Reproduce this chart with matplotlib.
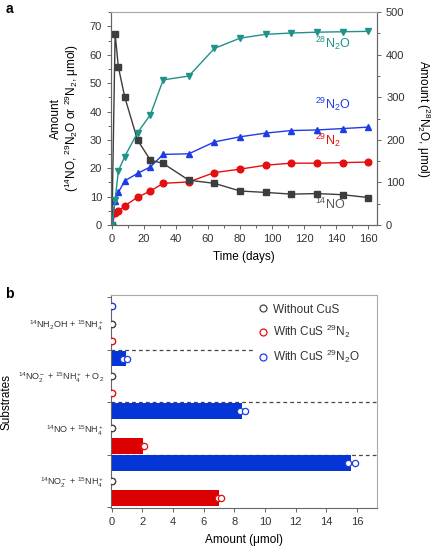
import matplotlib
matplotlib.use("Agg")
import matplotlib.pyplot as plt
from matplotlib.lines import Line2D
from matplotlib.ticker import MultipleLocator
import numpy as np

plt.rcParams["font.family"] = ["Liberation Sans", "DejaVu Sans"]
plt.rcParams["mathtext.fontset"] = "custom"
plt.rcParams["mathtext.rm"] = "Liberation Sans"
plt.rcParams["mathtext.it"] = "Liberation Sans:italic"
plt.rcParams["mathtext.bf"] = "Liberation Sans:bold"
plt.rcParams["axes.edgecolor"] = "#666666"
plt.rcParams["xtick.color"] = "#666666"
plt.rcParams["ytick.color"] = "#666666"
plt.rcParams["xtick.labelcolor"] = "#333333"
plt.rcParams["ytick.labelcolor"] = "#333333"
plt.rcParams["text.color"] = "#333333"

# ---- panel a data ----
days    = [0, 2, 4, 8, 16, 24, 32, 48, 64, 80, 96, 112, 128, 144, 160]
no14    = [0, 67.4, 55.7, 45.1, 29.9, 22.9, 21.7, 15.8, 14.7, 12.0, 11.5, 10.9, 11.1, 10.7, 9.7]
n2o29   = [0, 8.6, 11.5, 15.6, 18.2, 20.5, 24.9, 25.1, 29.3, 31.1, 32.4, 33.3, 33.5, 34.0, 34.5]
n2_29   = [0, 4.1, 4.8, 6.8, 9.8, 12.0, 14.7, 15.2, 18.5, 19.7, 21.1, 21.8, 21.8, 22.0, 22.2]
n2o28   = [0, 60, 127, 161, 217, 259, 341, 350, 415, 439, 448, 451, 453, 454, 455]

# ---- panel b data (bottom group first) ----
substrates = [r"$^{14}$NO$_2^-$ + $^{15}$NH$_4^+$",
              r"$^{14}$NO + $^{15}$NH$_4^+$",
              r"$^{14}$NO$_2^-$ + $^{15}$NH$_4^+$ + O$_2$",
              r"$^{14}$NH$_2$OH + $^{15}$NH$_4^+$"]
n2_mean  = [6.99, 2.06, 0, 0]
n2o_mean = [15.59, 8.51, 0.91, 0]
n2_reps  = [[6.95, 7.12], [2.02, 2.10], [0, 0], [0, 0]]
n2o_reps = [[15.42, 15.85], [8.36, 8.68], [0.72, 1.02], [0, 0]]
nocus    = [[0, 0], [0, 0], [0, 0], [0, 0]]

c_black = "#3d3d3d"
c_teal = "#1f9289"
c_blue = "#1e3ce6"
c_red = "#e41010"
c_bblue = "#0535d6"
c_bred = "#dc0000"

fig = plt.figure(figsize=(4.41, 5.53), dpi=100)

# ================= a =================
ax = fig.add_axes([0.252, 0.593, 0.603, 0.385])
ax2 = ax.twinx()
ms = 4.8
ax.plot(days, no14, "-s", color=c_black, lw=1, ms=ms, zorder=5)
ax.plot(days, n2o29, "-^", color=c_blue, lw=1, ms=ms, zorder=4)
ax.plot(days, n2_29, "-o", color=c_red, lw=1, ms=ms, zorder=3)
ax2.plot(days, n2o28, "-v", color=c_teal, lw=1, ms=ms)
ax.set_xlim(-0.5, 165.5)
ax.set_ylim(0, 75)
ax2.set_ylim(0, 500)
ax.xaxis.set_major_locator(MultipleLocator(20))
ax.xaxis.set_minor_locator(MultipleLocator(10))
ax.yaxis.set_major_locator(MultipleLocator(10))
ax.yaxis.set_minor_locator(MultipleLocator(5))
ax2.yaxis.set_major_locator(MultipleLocator(100))
ax2.yaxis.set_minor_locator(MultipleLocator(50))
for a_ in (ax, ax2):
    a_.tick_params(labelsize=8, length=3, width=0.7)
    a_.tick_params(which="minor", length=2, width=0.7)
    for s in a_.spines.values():
        s.set_linewidth(0.8)
ax.spines["top"].set_color("#aaaaaa")
ax2.spines["top"].set_color("#aaaaaa")
ax.set_xlabel("Time (days)", fontsize=8.5, labelpad=5)
ax.set_ylabel("Amount\n($^{14}$NO, $^{29}$N$_2$O or $^{29}$N$_2$, μmol)",
              fontsize=8.5, linespacing=1.1, labelpad=6)
ax2.set_ylabel("Amount ($^{28}$N$_2$O, μmol)", fontsize=8.5, rotation=270, labelpad=20)

ax.text(127, 62.5, "$^{28}$N$_2$O", color=c_teal, fontsize=9)
ax.text(127, 40.8, "$^{29}$N$_2$O", color=c_blue, fontsize=9)
ax.text(127, 28.2, "$^{29}$N$_2$", color=c_red, fontsize=9)
ax.text(127, 5.6, "$^{14}$NO", color="#555555", fontsize=9)
fig.text(0.012, 0.983, "a", fontsize=10, fontweight="bold", color="black", va="center")

# ================= b =================
bx = fig.add_axes([0.252, 0.0814, 0.603, 0.3851])
red_y = np.arange(4) * 3
blk_y = red_y + 1
blu_y = red_y + 2
bx.barh(red_y, n2_mean, height=0.9, color=c_bred, zorder=2)
bx.barh(blu_y, n2o_mean, height=0.9, color=c_bblue, zorder=2)
mk = dict(marker="o", ms=4.5, mew=0.9, ls="none", zorder=4)
for i in range(4):
    bx.plot(n2_reps[i], [red_y[i]] * 2, mfc="white", mec=c_red, **mk)
    bx.plot(n2o_reps[i], [blu_y[i]] * 2, mfc="white", mec=c_blue, **mk)
    bx.plot(nocus[i], [blk_y[i]] * 2, mfc="white", mec="#444444", **mk)
for yb in (2.5, 5.5):
    bx.axhline(yb, color="#444444", lw=0.9, ls=(0, (3, 2.5)), zorder=1)
bx.axhline(8.5, xmax=0.535, color="#444444", lw=0.9, ls=(0, (3, 2.5)), zorder=1)
bx.set_xlim(-0.03, 17.3)
bx.set_ylim(-0.56, 11.64)
bx.xaxis.set_major_locator(MultipleLocator(2))
bx.set_yticks([-0.5, 2.5, 5.5, 8.5, 11.5])
bx.set_yticklabels([])
bx.set_yticks(blk_y, minor=True)
bx.set_yticklabels(substrates, minor=True, fontsize=6.5)
bx.tick_params(axis="y", which="minor", length=0, pad=5)
bx.tick_params(axis="y", which="major", length=3, width=0.7)
bx.tick_params(axis="x", labelsize=8, length=3, width=0.7)
for s in bx.spines.values():
    s.set_linewidth(0.8)
bx.spines["top"].set_color("#aaaaaa")
bx.spines["right"].set_color("#aaaaaa")
bx.set_xlabel("Amount (μmol)", fontsize=8.5, labelpad=5)
bx.set_ylabel("Substrates", fontsize=8.5, labelpad=4)

handles = [Line2D([], [], marker="o", ls="none", ms=5, mfc="white", mec="#444444", mew=0.9),
           Line2D([], [], marker="o", ls="none", ms=5, mfc="white", mec=c_red, mew=0.9),
           Line2D([], [], marker="o", ls="none", ms=5, mfc="white", mec=c_blue, mew=0.9)]
bx.legend(handles, ["Without CuS", "With CuS $^{29}$N$_2$", "With CuS $^{29}$N$_2$O"],
          loc="upper left", bbox_to_anchor=(0.51, 1.01), frameon=False,
          fontsize=8.5, handletextpad=0.3, labelspacing=0.65, handlelength=1.0)
fig.text(0.012, 0.468, "b", fontsize=10, fontweight="bold", color="black", va="center")

fig.savefig("out.png", dpi=100)
